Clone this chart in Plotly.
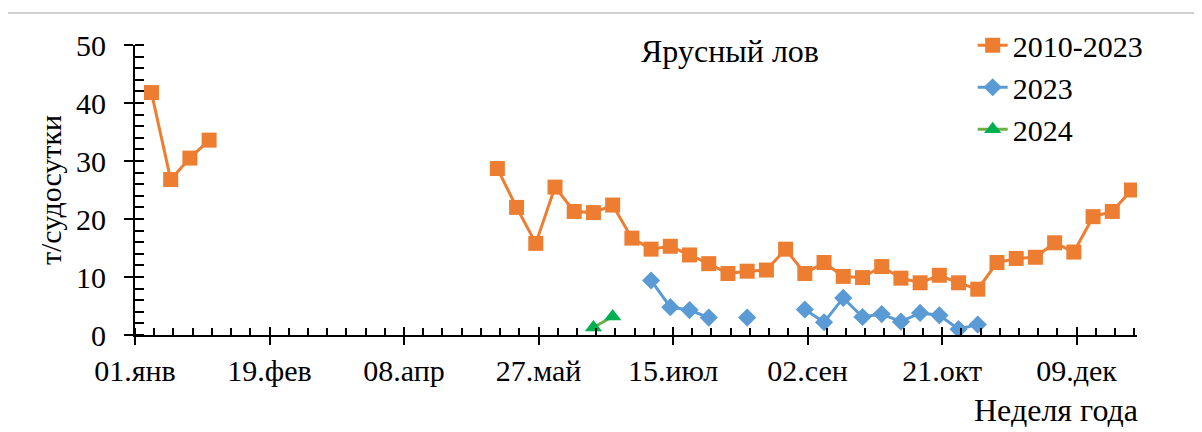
import plotly.graph_objects as go

# ---- data ----
weeks = list(range(1, 53))
avg_2010_2023 = [41.8, 26.8, 30.5, 33.6,
                 None, None, None, None, None, None, None, None, None, None, None, None, None, None,
                 28.7, 22.0, 15.8, 25.5, 21.3, 21.1, 22.4, 16.7, 14.8, 15.3, 13.8, 12.3, 10.6, 11.0,
                 11.2, 14.8, 10.6, 12.5, 10.1, 9.9, 11.8, 9.8, 9.0, 10.3, 9.0, 7.9, 12.5, 13.2,
                 13.4, 15.9, 14.3, 20.4, 21.3, 25.0]
vals_2023 = [None] * 26 + [9.4, 4.8, 4.3, 3.0, None, 3.0, None, None, 4.4, 2.2, 6.4, 3.1,
                           3.6, 2.3, 3.8, 3.4, 1.0, 1.8] + [None] * 8
weeks_2024 = [24, 25]
vals_2024 = [1.3, 3.2]

tick_days = [0, 49, 98, 147, 196, 245, 294, 343]
tick_labels = ["01.янв", "19.фев", "08.апр", "27.май", "15.июл", "02.сен", "21.окт", "09.дек"]

def week_to_day(w):
    return 7 * w - 1

FONT = "Liberation Serif"
ORANGE = "#ED7D31"
BLUE = "#5B9BD5"
GREEN_LINE = "#70AD47"
GREEN_MARK = "#00B050"

fig = go.Figure()
fig.add_trace(go.Scatter(
    x=[week_to_day(w) for w in weeks], y=avg_2010_2023, name="2010-2023",
    mode="lines+markers", line=dict(color=ORANGE, width=3),
    marker=dict(symbol="square", size=15, color=ORANGE)))
fig.add_trace(go.Scatter(
    x=[week_to_day(w) for w in weeks], y=vals_2023, name="2023",
    mode="lines+markers", line=dict(color=BLUE, width=3),
    marker=dict(symbol="diamond", size=14, color=BLUE)))
fig.add_trace(go.Scatter(
    x=[week_to_day(w) for w in weeks_2024], y=vals_2024, name="2024",
    mode="lines+markers", line=dict(color=GREEN_LINE, width=3),
    marker=dict(symbol="triangle-up", size=15, color=GREEN_MARK),
    xaxis="x2", yaxis="y2"))

axis_common = dict(showgrid=False, zeroline=False, linecolor="black", linewidth=2,
                   tickcolor="black", tickwidth=2)

fig.update_layout(
    width=1194, height=424,
    margin=dict(l=127, r=65, t=36, b=97),
    paper_bgcolor="white", plot_bgcolor="white",
    font=dict(family=FONT, size=30, color="black"),
    xaxis=dict(range=[0, 365], showline=True, ticks="outside", ticklen=8,
               tickmode="array", tickvals=tick_days, ticktext=tick_labels,
               tickfont=dict(family=FONT, size=30, color="black"),
               minor=dict(ticks="inside", tickmode="linear", tick0=0, dtick=7,
                          ticklen=7, tickwidth=2, tickcolor="black"),
               **axis_common),
    yaxis=dict(range=[0, 50], showline=True, ticks="outside", ticklen=9,
               dtick=10, tick0=0, tickfont=dict(family=FONT, size=30, color="black"),
               ticklabelstandoff=12,
               minor=dict(ticks="inside", dtick=2, ticklen=9, tickwidth=2, tickcolor="black"),
               title=dict(text="т/судосутки", font=dict(family=FONT, size=30, color="black"),
                          standoff=6),
               **axis_common),
    xaxis2=dict(range=[0, 365], overlaying="x", showline=False, ticks="inside", ticklen=8,
                tickmode="array", tickvals=tick_days, showticklabels=False,
                showgrid=False, zeroline=False, tickcolor="black", tickwidth=2),
    yaxis2=dict(range=[0, 50], overlaying="y", showline=False, ticks="inside", ticklen=9,
                dtick=10, tick0=0, showticklabels=False,
                showgrid=False, zeroline=False, tickcolor="black", tickwidth=2),
    legend=dict(x=0.836, y=1.085, xanchor="left", yanchor="top",
                font=dict(family=FONT, size=30, color="black"),
                bgcolor="rgba(0,0,0,0)", tracegroupgap=0),
    showlegend=True,
)

fig.add_annotation(text="Ярусный лов", x=0.594, y=0.979, xref="paper", yref="paper",
                   xanchor="center", yanchor="middle", showarrow=False,
                   font=dict(family=FONT, size=32, color="black"))
fig.add_annotation(text="Неделя года", x=1.003, y=-0.258, xref="paper", yref="paper",
                   xanchor="right", yanchor="middle", showarrow=False,
                   font=dict(family=FONT, size=32, color="black"))
fig.add_shape(type="line", xref="paper", yref="paper", x0=-0.132, x1=1.066,
              y0=1.11, y1=1.11, line=dict(color="#C0C0C0", width=1.5))

fig.write_html("out.html")
